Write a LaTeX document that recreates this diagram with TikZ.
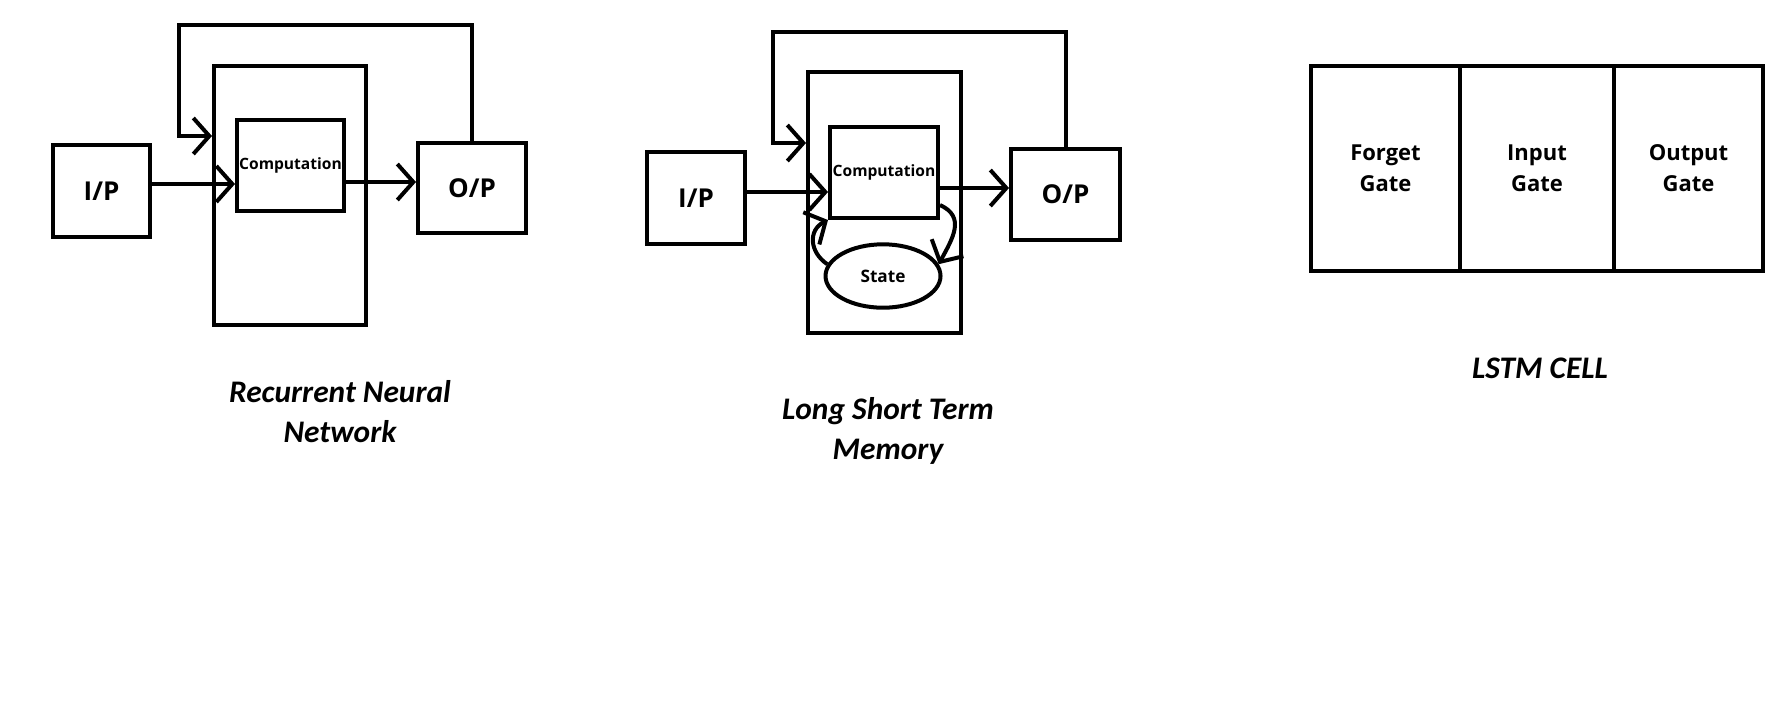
\documentclass[tikz,border=0pt]{standalone}
\usepackage{fontspec}
\setsansfont{Open Sans}
\newfontfamily\titlefont{Carlito}
\usetikzlibrary{arrows.meta,positioning,shapes.geometric}

\tikzset{
  blk/.style={draw,line width=2pt,inner sep=0pt,align=center,
    font=\sffamily\bfseries\fontsize{13}{15}\selectfont},
  small/.style={font=\sffamily\bfseries\fontsize{7.8}{9}\selectfont},
  gate/.style={blk,minimum height=102.5pt,
    font=\sffamily\bfseries\fontsize{11}{15.5}\selectfont},
  arr/.style={-{Straight Barb[length=8pt,width=18pt]},line width=2pt},
  ttl/.style={align=center,font=\titlefont\bfseries\itshape\fontsize{15.7}{20}\selectfont},
}

\begin{document}
\begin{tikzpicture}[x=0.5pt,y=-0.5pt]
  \useasboundingbox (0,0) rectangle (1780,720);
  % recurrent neural network
  \node[blk,minimum width=48.5pt,minimum height=46pt] (rip) at (101.5,191) {I/P};
  \node[blk,minimum width=76pt,minimum height=129.5pt] (rcell) at (290,195.5) {};
  \node[blk,small,minimum width=53.5pt,minimum height=45.5pt] (rcomp) at (290.5,165.5) {Computation};
  \node[blk,minimum width=54pt,minimum height=45pt] (rop) at (472,188) {O/P};
  \draw[arr] ([yshift=3.5pt]rip.east) -- ([yshift=3.5pt]rip.east -| rcomp.west);
  \draw[arr] ([yshift=3pt]rop.west -| rcomp.east) -- ([yshift=3pt]rop.west);
  \coordinate (rturn) at (179,25);
  \coordinate (rback) at (179,136);
  \draw[arr] (rop.north) |- (rturn) -- (rback) -- (rback -| rcell.west);
  \node[ttl] (rtitle) at (340,412) {Recurrent Neural\\Network};

  % long short term memory
  \node[blk,minimum width=49pt,minimum height=46pt] (lip) at (696,198) {I/P};
  \node[blk,minimum width=76.5pt,minimum height=130.5pt] (lcell) at (884.5,202.5) {};
  \node[blk,small,minimum width=54pt,minimum height=45.5pt] (lcomp) at (884,172.5) {Computation};
  \node[blk,minimum width=54.5pt,minimum height=45.5pt] (lop) at (1065.5,194.5) {O/P};
  \node[blk,ellipse,font=\sffamily\bfseries\fontsize{8.6}{10}\selectfont,
    minimum width=57.5pt,minimum height=31.7pt] (lstate) at (883,276) {State};
  \draw[arr] ([yshift=3pt]lip.east) -- ([yshift=3pt]lip.east -| lcomp.west);
  \draw[arr] ([yshift=3.25pt]lop.west -| lcomp.east) -- ([yshift=3.25pt]lop.west);
  \coordinate (lturn) at (773,32);
  \coordinate (lback) at (773,143);
  \draw[arr] (lop.north) |- (lturn) -- (lback) -- (lback -| lcell.west);
  \draw[arr] ([yshift=7.5pt]lcomp.south east) .. controls +(26,12) and +(14,-26) .. (lstate.12);
  \draw[arr] (lstate.168) .. controls +(-18,-12) and +(-20,10) .. (lcomp.south west);
  \node[ttl] (ltitle) at (888,431) {Long Short Term\\Memory};

  % lstm cell
  \node[gate,minimum width=74.5pt] (fgate) at (1385.5,168.5) {Forget\\Gate};
  \node[gate,minimum width=77pt] (igate) at (1537,168.5) {Input\\Gate};
  \node[gate,minimum width=74.5pt] (ogate) at (1688.5,168.5) {Output\\Gate};
  \node[ttl] (ctitle) at (1540,368) {LSTM CELL};
\end{tikzpicture}
\end{document}
